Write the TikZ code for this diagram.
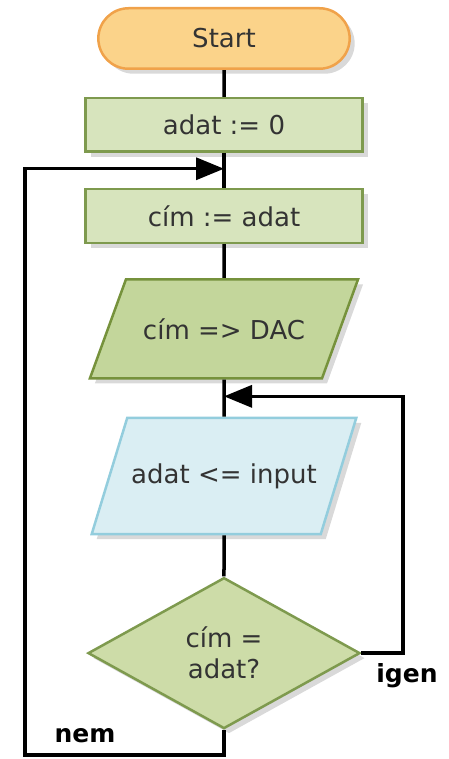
\documentclass[tikz,border=0pt]{standalone}
\usepackage{fontspec}
\setmainfont{DejaVu Sans}
\usepackage{xcolor}
\usepackage{tikz}
\usetikzlibrary{arrows.meta,calc,positioning,shapes.geometric,shapes.misc,shadows}
\definecolor{startfill}{HTML}{FBD38A}
\definecolor{startline}{HTML}{F0A24A}
\definecolor{boxfill}{HTML}{D7E4BD}
\definecolor{boxline}{HTML}{7E9A4E}
\definecolor{iofill}{HTML}{C3D69B}
\definecolor{ioline}{HTML}{76923C}
\definecolor{infill}{HTML}{DAEEF3}
\definecolor{inline}{HTML}{93CDDD}
\definecolor{askfill}{HTML}{CDDCA8}
\definecolor{txt}{HTML}{333333}

\begin{document}
\begin{tikzpicture}[x=1pt,y=-1pt,>={Triangle[length=28pt,width=22pt]},
  font=\fontsize{26}{31}\selectfont,
  shade/.style={drop shadow={opacity=0.3,shadow xshift=5pt,shadow yshift=-5pt}},
  stepbox/.style={draw=boxline,line width=2.5pt,fill=boxfill,text=txt,shade,minimum width=277pt,minimum height=53.5pt},
  iobox/.style={trapezium,line width=2.5pt,text=txt,shade},
  flow/.style={line width=3.5pt,color=black}]
\useasboundingbox (0,0) rectangle (448,759);
\node[rounded rectangle,draw=startline,line width=2.5pt,fill=startfill,text=txt,shade,minimum width=258pt,minimum height=60.5pt] (start) at (224,38.5) {Start};
\node[stepbox,below=27pt of start] (init) {adat := 0};
\node[stepbox,below=35pt of init] (addr) {cím := adat};
\node[iobox,draw=ioline,fill=iofill,trapezium left angle=70,trapezium right angle=110,inner xsep=17pt,inner ysep=39pt,below=34pt of addr] (dac) {cím => DAC};
\node[iobox,draw=inline,fill=infill,trapezium left angle=73,trapezium right angle=107,inner xsep=4pt,inner ysep=45.5pt,below=37pt of dac] (input) {adat <= input};
\node[diamond,draw=boxline,line width=2.5pt,fill=askfill,text=txt,shade,align=center,minimum width=272pt,minimum height=151pt,inner sep=0pt,below=41pt of input] (test) {cím =\\adat?};
\coordinate (j1) at ($(init.south)!0.45!(addr.north)$);
\coordinate (j2) at ($(dac.south)!0.45!(input.north)$);
\coordinate (ret) at (403,0 |- test.east);
\coordinate (back) at (25,755);
\draw[flow] (start) -- (init);
\draw[flow] (init) -- (addr);
\draw[flow] (addr) -- (dac);
\draw[flow] (dac) -- (input);
\draw[flow] (input) -- (test);
\draw[flow,->] (test.east) -- (ret) |- (j2);
\draw[flow,->] (test.south) |- (back) |- (j1);
\node[font=\fontsize{25}{30}\selectfont\bfseries] (yes) at (407,676) {igen};
\node[font=\fontsize{25}{30}\selectfont\bfseries] (no) at (85,736) {nem};
\end{tikzpicture}
\end{document}
